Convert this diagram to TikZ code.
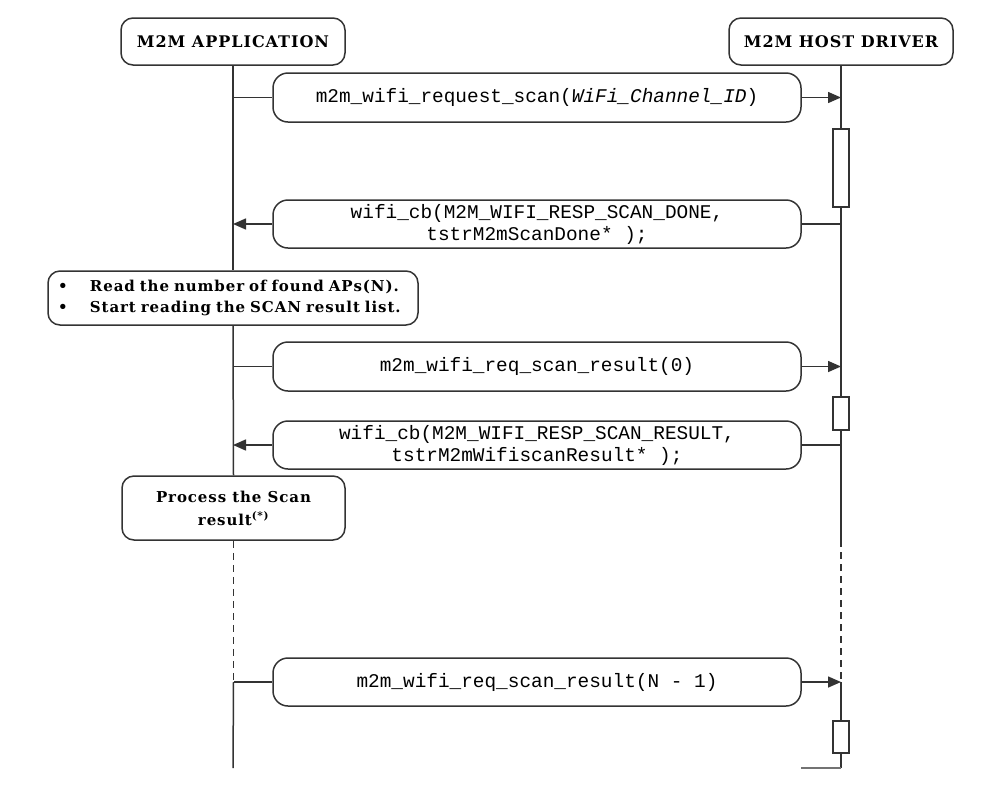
\documentclass[tikz,border=0pt]{standalone}
\usepackage{fontspec}
\setmainfont{DejaVu Serif}
\newfontfamily\monofont{Liberation Mono}
\newfontfamily\hdrfont[LetterSpace=6]{DejaVu Serif}
\usetikzlibrary{arrows.meta}
\begin{document}
\begin{tikzpicture}[x=1pt,y=-1pt,
  ln/.style={draw=black!80, line width=1.5pt},
  hdr/.style={draw=black!80, line width=1.5pt, rounded corners=12pt, minimum width=224pt, minimum height=47pt, font=\hdrfont\fontsize{16}{18}\selectfont\bfseries, align=center, inner sep=0pt},
  msg/.style={draw=black!80, line width=1.5pt, rounded corners=15pt, minimum width=528pt, minimum height=48pt, font=\monofont\fontsize{19.4}{22}\selectfont, align=center, inner sep=0pt},
  note/.style={draw=black!80, line width=1.5pt, rounded corners=12pt, inner sep=0pt, font=\hdrfont\fontsize{15}{21}\selectfont\bfseries},
  act/.style={draw=black!80, line width=1.5pt, fill=white, minimum width=16pt, inner sep=0pt},
  arr/.style={ln, -{Triangle[length=13pt,width=11pt]}},
  dsh/.style={ln, dash pattern=on 7pt off 5pt},
]
\useasboundingbox (0,0) rectangle (998,796);
% headers
\node[hdr] (app) at (233,41.5) {M2M APPLICATION};
\node[hdr] (host) at (841,41.5) {M2M HOST DRIVER};
% activation boxes
\node[act, minimum height=78pt] (a1) at (841,168) {};
\node[act, minimum height=33pt] (a2) at (841,413.5) {};
\node[act, minimum height=32pt] (a3) at (841,737) {};
% messages
\node[msg, minimum height=49pt] (m1) at (537,97.5) {m2m\_wifi\_request\_scan({\itshape WiFi\_Channel\_ID})};
\node[msg] (m2) at (537,224) {wifi\_cb(M2M\_WIFI\_RESP\_SCAN\_DONE,\\tstrM2mScanDone* );};
\node[msg, minimum height=49pt] (m3) at (537,366.5) {m2m\_wifi\_req\_scan\_result(0)};
\node[msg] (m4) at (537,445) {wifi\_cb(M2M\_WIFI\_RESP\_SCAN\_RESULT,\\tstrM2mWifiscanResult* );};
\node[msg] (m5) at (537,682) {m2m\_wifi\_req\_scan\_result(N - 1)};
% note and process boxes
\node[note, minimum width=370pt, minimum height=54pt, text width=350pt, align=left] (nt) at (233,298)
  {\begin{tabular}{@{}p{32pt}@{}l@{}}\textbullet & Read the number of found APs(N).\\ \textbullet & Start reading the SCAN result list.\end{tabular}};
\node[note, minimum width=223pt, minimum height=64pt, align=center, font=\hdrfont\fontsize{15}{23}\selectfont\bfseries] (pr) at (233.5,508)
  {Process the Scan\\result\textsuperscript{(*)}};
% coordinates on lifelines
\coordinate (Rd) at (841,540);
\coordinate (Rend) at (841,768);
\coordinate (Lend) at (233,768);
\coordinate (Bend) at (801,768);
% left lifeline
\draw[ln] (app.south) -- (nt.north);
\draw[ln] (nt.south) -- (pr.north);
\draw[dsh] (pr.south) -- (m5.west -| pr.south);
\draw[ln] (m5.west -| pr.south) -- (Lend);
% right lifeline
\draw[ln] (host.south) -- (a1.north);
\draw[ln] (a1.south) -- (a2.north);
\draw[ln] (a2.south) -- (Rd);
\draw[dsh] (Rd) -- (m5.east -| host.south);
\draw[ln] (m5.east -| host.south) -- (a3.north);
\draw[ln] (a3.south) -- (Rend);
\draw[ln, draw=black!55, line width=2pt] (Rend) -- (Bend);
% message connectors
\draw[ln] (m1.west -| app.south) -- (m1.west);
\draw[arr] (m1.east) -- (m1.east -| host.south);
\draw[ln] (m2.east -| host.south) -- (m2.east);
\draw[arr] (m2.west) -- (m2.west -| app.south);
\draw[ln] (m3.west -| app.south) -- (m3.west);
\draw[arr] (m3.east) -- (m3.east -| host.south);
\draw[ln] (m4.east -| host.south) -- (m4.east);
\draw[arr] (m4.west) -- (m4.west -| app.south);
\draw[ln] (m5.west -| pr.south) -- (m5.west);
\draw[arr] (m5.east) -- (m5.east -| host.south);
\end{tikzpicture}
\end{document}
